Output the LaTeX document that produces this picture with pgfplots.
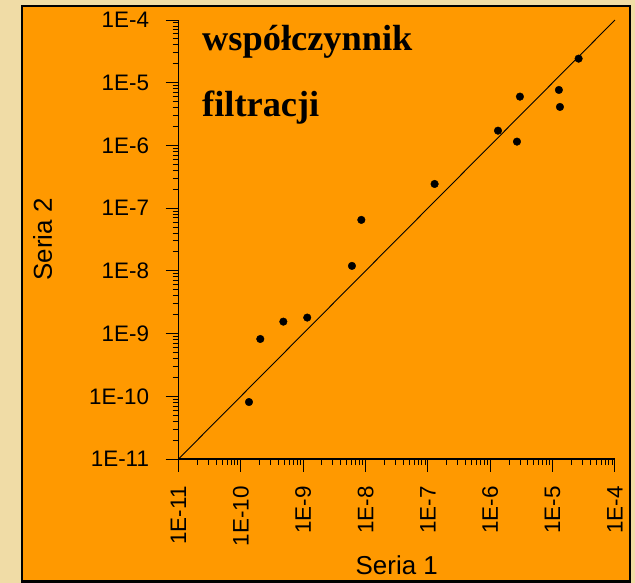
\documentclass[border=0pt]{standalone}
\usepackage{pgfplots}
\pgfplotsset{compat=1.18}
\usepackage{fontspec}
\setmainfont{Liberation Sans}
\newfontfamily\titlefont{Liberation Serif}
\definecolor{chartorange}{RGB}{255,153,0}
\definecolor{beige}{RGB}{240,220,166}
\begin{document}
\begin{tikzpicture}
\fill[beige] (0,0) rectangle (635bp,583bp);
\draw[black, line width=2.5bp, fill=chartorange] (22bp,1.3bp) rectangle (630bp,577bp);
\begin{axis}[
  at={(178.5bp,124bp)}, anchor=south west,
  scale only axis, width=436.5bp, height=439bp,
  xmode=log, ymode=log,
  xmin=1e-11, xmax=1e-4, ymin=1e-11, ymax=1e-4,
  axis x line*=bottom, axis y line*=left,
  axis line style={-, line width=1.3bp, black},
  tick align=outside,
  major tick length=13bp, minor tick length=6bp,
  every tick/.style={black, line width=1bp},
  xtick={1e-11,1e-10,1e-9,1e-8,1e-7,1e-6,1e-5,1e-4},
  ytick={1e-11,1e-10,1e-9,1e-8,1e-7,1e-6,1e-5,1e-4},
  xticklabels={\mbox{1E-11},\mbox{1E-10},\mbox{1E-9},\mbox{1E-8},\mbox{1E-7},\mbox{1E-6},\mbox{1E-5},\mbox{1E-4}},
  yticklabels={\mbox{1E-11},\mbox{1E-10},\mbox{1E-9},\mbox{1E-8},\mbox{1E-7},\mbox{1E-6},\mbox{1E-5},\mbox{1E-4}},
  ticklabel style={font=\fontsize{22.5}{25}\selectfont},
  xticklabel style={rotate=90, anchor=east},
  xticklabel shift=11bp, yticklabel shift=13bp,
  xlabel={Seria 1}, ylabel={Seria 2},
  label style={font=\fontsize{26}{30}\selectfont},
  xlabel style={at={(axis description cs:0.5,-0.2642)}, anchor=base},
  ylabel style={at={(axis description cs:-0.2898,0.5)}, anchor=base, rotate=0},
  clip=false,
]
\addplot[black, line width=0.9bp] coordinates {(1e-11,1e-11) (1e-4,1e-4)};
\addplot[only marks, mark=*, mark size=3.8bp, black] coordinates {
  (1.35e-10,8.1e-11)
  (2.05e-10,8.2e-10)
  (4.8e-10,1.55e-9)
  (1.16e-9,1.8e-9)
  (6.05e-9,1.2e-8)
  (8.55e-9,6.5e-8)
  (1.28e-7,2.43e-7)
  (1.33e-6,1.72e-6)
  (2.68e-6,1.15e-6)
  (2.99e-6,6.0e-6)
  (1.26e-5,7.67e-6)
  (1.31e-5,4.11e-6)
  (2.61e-5,2.42e-5)
};
\end{axis}
\node[anchor=base west, inner sep=0pt, font=\titlefont\bfseries\fontsize{36.5}{40}\selectfont] at (202bp,532bp) {współczynnik};
\node[anchor=base west, inner sep=0pt, font=\titlefont\bfseries\fontsize{36.5}{40}\selectfont] at (202bp,466bp) {filtracji};
\pgfresetboundingbox
\useasboundingbox (0,0) rectangle (635bp,583bp);
\end{tikzpicture}
\end{document}
